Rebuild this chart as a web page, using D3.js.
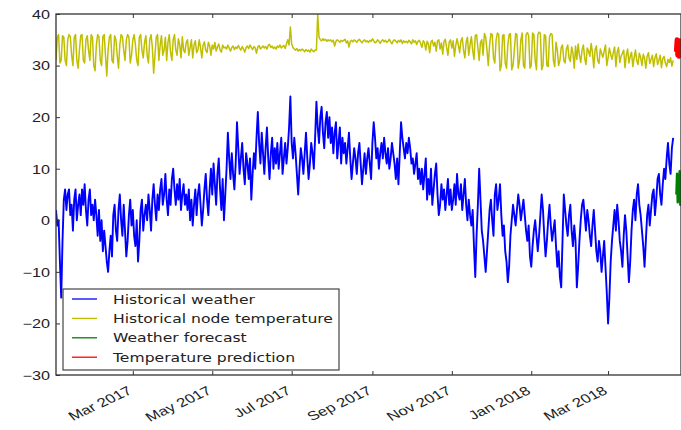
<!DOCTYPE html>
<html lang="en">
  <head>
    <meta charset="UTF-8" />
    <title>Historical weather and node temperature</title>
    <style>
      * {
        margin: 0;
        padding: 0;
      }
      body {
        background: #fff;
      }
      svg {
        display: block;
        font-family: "DejaVu Sans", sans-serif;
      }
    </style>
  </head>
  <body>
    <script src="https://d3js.org/d3.v7.min.js"></script>
    <script>
      // history: one value per day from seriesStart
      const seriesStart = "2017-01-01";
      const stepDays = 1;
      const weather = [
        2, -1, 0, -8, -15, -4, 4, 6, 2, 5,
        6, 1, 3, -2, 4, 6, 0, 3, 5, 1,
        6, 3, 7, 2, -1, 4, 6, 1, 3, 0,
        4, 1, -3, 2, -4, 0, -6, -2, -5, -8,
        -10, -6, -3, -7, 1, 3, -2, -4, 2, 5,
        0, -3, 3, -2, -7, -4, 1, 4, -1, 2,
        -3, -5, 0, -8, -4, 2, 4, -2, 1, 3,
        0, 5, 2, -2, 4, 7, 3, 0, 5, 2,
        6, 8, 3, 5, 9, 4, 1, 6, 3, 8,
        10, 6, 3, 7, 4, 8, 2, 5, 7, 3,
        5, 2, 6, 0, 4, -1, 3, 6, 1, 5,
        7, 3, -1, 2, 6, 9, 4, 1, 6, 10,
        5, 11, 7, 3, 9, 12, 6, 2, 8, 0,
        5, 10, 17, 12, 8, 13, 9, 6, 11, 19,
        14, 9, 12, 15, 10, 7, 13, 11, 8, 12,
        4, 9, 13, 10, 16, 21, 15, 11, 17, 13,
        9, 14, 18, 12, 8, 13, 16, 10, 14, 11,
        15, 10, 13, 16, 9, 12, 15, 11, 14, 18,
        24, 15, 12, 16, 13, 9, 5, 10, 14, 12,
        9, 13, 17, 12, 8, 11, 15, 13, 10, 16,
        23, 18, 15, 20, 22, 17, 14, 19, 21, 16,
        20, 15, 18, 13, 17, 19, 12, 15, 18, 11,
        16, 13, 15, 11, 14, 17, 12, 8, 11, 14,
        12, 9, 13, 15, 11, 7, 10, 13, 9, 12,
        14, 11, 8, 15, 19, 16, 12, 14, 10, 13,
        15, 12, 16, 13, 11, 14, 10, 12, 15, 13,
        11, 8, 12, 7, 13, 19, 16, 14, 12, 15,
        13, 16, 14, 11, 12, 9, 11, 13, 8, 10,
        7, 10, 6, 9, 12, 4, 8, 5, 10, 3,
        6, 9, 11, 5, 1, 3, 7, 4, 6, 2,
        5, 8, 3, 6, 2, 4, 7, 3, 9, 5,
        4, 7, 2, 5, 8, 3, 0, 4, 1, -1,
        2, -5, -11, -3, 3, 10, 4, -2, -4, -7,
        -10, -6, -2, 2, 4, 0, -3, 5, 7, 2,
        4, 7, 1, -3, -1, -6, -8, -12, -9, -3,
        0, 3, 1, -1, 2, 5, 3, 0, 2, 4,
        1, -2, -4, -1, -7, -9, -5, -2, 0, -3,
        -6, -3, 1, 5, 2, -3, -7, -4, 0, 3,
        -1, -4, -2, 0, -5, -9, -6, -11, -13, -4,
        5, 2, -1, -3, 1, 3, -2, -5, -1, -4,
        -13, -9, -4, 0, 3, 4, 1, -2, 2, 0,
        -3, -5, -1, 2, -2, -6, -8, -4, -6, -10,
        -7, -4, -9, -14, -20, -15, -8, -4, -1, 2,
        -2, 3, 0, -4, -6, -9, -3, 1, -2, -7,
        -12, -8, -2, 2, 4, 0, 5, 7, 3, 1,
        -2, -5, -9, -4, 1, 3, -1, 2, 5, 6,
        1, 4, 8, 9, 5, 3, 7, 10, 8, 12,
        15, 11, 9, 14, 16
      ];
      const nodeTemp = [
        31, 35.5, 36, 30.5, 31, 35.8, 35.5, 31, 30, 35,
        36, 35.6, 32, 30, 35.5, 36, 31, 29.5, 33, 35.8,
        36, 31, 30.5, 35, 35.8, 33, 31, 36, 35.5, 30,
        29, 34, 36, 35.5, 31, 30, 35.6, 36, 32, 28,
        33, 35.5, 36, 31, 30.5, 35.8, 35, 32, 29.5, 34,
        36, 35.6, 33, 31, 35, 36, 35.5, 30.5, 32, 35,
        36, 34, 31, 30, 35.5, 36, 33, 31.5, 34.5, 35.8,
        32, 30.5, 35, 36, 33.5, 28.5, 32, 35.5, 36, 31,
        34, 35.8, 32, 33, 35.5, 31, 34.5, 36, 32.5, 31,
        35, 36, 33, 32, 35.2, 34, 31.5, 35.6, 33, 32.5,
        34.5, 35, 32, 33.5, 35, 31.5, 34, 34.8, 32.5, 33,
        35, 33.5, 31.5, 34, 34.6, 33, 32.5, 34.5, 33.8, 32,
        34, 33.2, 34.5, 32.8, 33.6, 34.2, 33, 32.6, 34, 33.4,
        33.6, 33.2, 34, 33.4, 32.8, 33.5, 33.8, 33.1, 33.6, 33.3,
        33.9, 33.4, 33, 33.7, 33.2, 32.6, 33.5, 33.8, 33.3, 34,
        33.5, 33.1, 33.7, 33.4, 32.4, 33.6, 33.9, 33.2, 33.5, 33.8,
        33.4, 33.7, 33.2, 33.9, 34.1, 33.5, 33.8, 33.3, 33.6, 33.2,
        33.8, 33.5, 34, 33.4, 33.7, 33.9, 33.3, 34.2, 35, 34,
        37.5, 34.2, 33.5, 33.2, 33, 33.3, 32.8, 33.1, 32.9, 33.2,
        33, 32.7, 33.1, 32.8, 33, 32.6, 33.2, 32.9, 32.7, 33,
        33, 40, 35.5, 35, 34.8, 35.2, 34.9, 35.1, 34.7, 35,
        34.8, 35, 34.6, 34.9, 33.8, 34.7, 35, 34.8, 34.5, 34.9,
        34.7, 34.9, 35.1, 34.4, 34.8, 33.6, 34.7, 34.9, 34.6, 35,
        34.8, 34.5, 34.9, 35.1, 34.7, 34.4, 34.8, 35, 34.6, 34.8,
        34.5, 34.9, 34.7, 35.2, 34.8, 34.4, 34.6, 35, 34.7, 34.3,
        34.8, 35, 34.6, 34.9, 34.5, 34.7, 35.1, 34.6, 34.2, 34.8,
        35, 34.7, 34.4, 34.9, 34.6, 35, 34.3, 34.8, 34.5, 34.7,
        34.4, 34.9, 34.6, 34.2, 35, 34.5, 34.8, 34.1, 34.7, 34.9,
        34.3, 33.5, 34.8, 34.5, 33, 34.7, 34.2, 32.5, 34.6, 34.9,
        33.8, 34.5, 32.8, 34.8, 35, 33.2, 34.4, 32.2, 34.7, 35.1,
        33.5, 32, 34.6, 35, 33.4, 34.8, 31.8, 33.9, 35.2, 34,
        32.5, 34.8, 35.4, 33, 31.5, 34.6, 35.5, 32, 34, 35.6,
        33, 31.2, 35.8, 36, 33.5, 31, 34.5, 35, 32, 36.2,
        35.5, 33, 30, 34, 36.2, 36, 31.5, 30.5, 35, 36.3,
        36, 29, 30, 35.8, 36, 30.5, 29.5, 34, 36, 36.2,
        29.2, 30, 33, 36.2, 36, 29.5, 31, 35, 36.3, 30,
        29.5, 36, 36.4, 35.8, 29.5, 30, 36.3, 36, 31, 29.2,
        36, 36.5, 36.2, 29.2, 30, 36, 35.8, 30, 29.8, 35.5,
        36.2, 36, 31, 29.8, 34.5, 33, 30, 31, 33.5, 34,
        31, 30.5, 33.2, 34, 31.5, 30.8, 33.6, 32.5, 29.5, 33.8,
        31.2, 34.2, 32, 30.6, 33, 34, 31.5, 30.2, 33.4, 32.8,
        31.8, 34.3, 32.5, 29.6, 33, 33.8, 31, 30.4, 33.2, 32.4,
        31.6, 32.8, 34, 30, 31.5, 33.4, 32.2, 31.2, 32.5, 33.6,
        29.8, 32.6, 33.5, 30.6, 31.8, 32.4, 33, 29.6, 32, 33.2,
        30.5, 31.8, 32.6, 29.8, 31.5, 33, 31, 30.2, 32.4, 31.6,
        30, 32.2, 31.4, 29.5, 31.8, 32.5, 30.4, 31.2, 32, 29.8,
        31.5, 32.3, 30.2, 31, 32, 29.6, 31.4, 31.8, 30.5, 29.8,
        31.2, 30.6, 31.5, 29.9, 31
      ];

      // forecast / prediction: one value every 12 hours
      const forecastStart = "2018-04-22T12:00:00";
      const forecastStepHours = 12;
      const forecast = [5, 9, 3.5, 8.5, 4, 9.5, 3, 8];
      const prediction = [33, 35, 32, 34.5, 31.8, 34.8, 32.5, 34];

      const xStart = "2017-01-01";
      const xEnd = "2018-04-26";
      const yTicks = [40, 30, 20, 10, 0, -10, -20, -30];
      const xTickDates = ["2017-03-01", "2017-05-01", "2017-07-01", "2017-09-01", "2017-11-01", "2018-01-01", "2018-03-01"];
      const xTickLabels = ["Mar 2017", "May 2017", "Jul 2017", "Sep 2017", "Nov 2017", "Jan 2018", "Mar 2018"];
      const legendLabels = ["Historical weather", "Historical node temperature", "Weather forecast", "Temperature prediction"];

      const colors = ["#0000ff", "#bfbf00", "#008000", "#ff0000"];

      const width = 681;
      const height = 430;
      const margin = { top: 14, right: 0, bottom: 55, left: 56 };
      const stretch = 1.35; // text in the picture is wider than tall

      const svg = d3.select("body").append("svg")
        .attr("width", width)
        .attr("height", height);

      const parse = d3.isoParse;
      const x = d3.scaleTime()
        .domain([parse(xStart), parse(xEnd)])
        .range([margin.left, width - margin.right]);
      const y = d3.scaleLinear()
        .domain([-30, 40])
        .range([height - margin.bottom, margin.top]);

      const t0 = parse(seriesStart);
      const histWeather = weather.map((v, i) => ({ t: d3.timeDay.offset(t0, i * stepDays), v }));
      const histNode = nodeTemp.map((v, i) => ({ t: d3.timeDay.offset(t0, i * stepDays), v }));
      const f0 = parse(forecastStart);
      const fc = forecast.map((v, i) => ({ t: d3.timeHour.offset(f0, i * forecastStepHours), v }));
      const pr = prediction.map((v, i) => ({ t: d3.timeHour.offset(f0, i * forecastStepHours), v }));

      svg.append("defs").append("clipPath").attr("id", "plot")
        .append("rect")
        .attr("x", margin.left)
        .attr("y", margin.top)
        .attr("width", width - margin.left - margin.right)
        .attr("height", height - margin.top - margin.bottom);

      const line = d3.line().x((d) => x(d.t)).y((d) => y(d.v));
      const lines = svg.append("g").attr("clip-path", "url(#plot)")
        .attr("fill", "none")
        .attr("stroke-linejoin", "round");

      lines.append("path").datum(histWeather)
        .attr("d", line).attr("stroke", colors[0]).attr("stroke-width", 1.9);
      lines.append("path").datum(histNode)
        .attr("d", line).attr("stroke", colors[1]).attr("stroke-width", 1.5);
      lines.append("path").datum(fc)
        .attr("d", line).attr("stroke", colors[2]).attr("stroke-width", 2.5);
      lines.append("path").datum(pr)
        .attr("d", line).attr("stroke", colors[3]).attr("stroke-width", 5)
        .attr("stroke-linecap", "round");

      // frame
      svg.append("rect")
        .attr("x", margin.left)
        .attr("y", margin.top)
        .attr("width", width - margin.left - margin.right)
        .attr("height", height - margin.top - margin.bottom)
        .attr("fill", "none")
        .attr("stroke", "#333")
        .attr("stroke-width", 1.3);

      // y axis, ticks pointing inward
      const yAxis = svg.append("g")
        .attr("transform", `translate(${margin.left},0)`)
        .call(d3.axisLeft(y).tickValues(yTicks).tickSizeInner(-4).tickSizeOuter(0).tickPadding(6)
          .tickFormat((d) => (d < 0 ? "\u2212" + Math.abs(d) : d)));
      yAxis.select(".domain").remove();
      yAxis.selectAll("line").attr("stroke", "#333");
      yAxis.selectAll("text")
        .attr("x", null)
        .attr("dy", "0.36em")
        .attr("transform", `translate(-6,0) scale(${stretch},1)`)
        .attr("fill", "#222")
        .attr("font-size", 12);

      // bottom axis with rotated labels
      const xAxis = svg.append("g")
        .attr("transform", `translate(0,${height - margin.bottom})`)
        .call(d3.axisBottom(x).tickValues(xTickDates.map(parse)).tickSizeInner(-4).tickSizeOuter(0)
          .tickFormat((d, i) => xTickLabels[i]));
      xAxis.select(".domain").remove();
      xAxis.selectAll("line").attr("stroke", "#333");
      xAxis.selectAll("text")
        .attr("y", 0)
        .attr("dy", 0)
        .attr("text-anchor", "end")
        .attr("transform", `translate(0,18) scale(${stretch},1) rotate(-32)`)
        .attr("fill", "#222")
        .attr("font-size", 12.5);

      // top ticks only
      const topAxis = svg.append("g")
        .attr("transform", `translate(0,${margin.top})`)
        .call(d3.axisTop(x).tickValues(xTickDates.map(parse)).tickSizeInner(-4).tickSizeOuter(0).tickFormat(""));
      topAxis.select(".domain").remove();
      topAxis.selectAll("line").attr("stroke", "#333");

      // legend
      const legend = svg.append("g").attr("transform", "translate(63,289)");
      legend.append("rect")
        .attr("width", 276)
        .attr("height", 81)
        .attr("fill", "#fff")
        .attr("stroke", "#444")
        .attr("stroke-width", 1.2);
      const items = legend.selectAll("g.item")
        .data(legendLabels)
        .join("g")
        .attr("class", "item")
        .attr("transform", (d, i) => `translate(0,${10 + i * 19.4})`);
      items.append("line")
        .attr("x1", 9).attr("x2", 34)
        .attr("stroke", (d, i) => colors[i])
        .attr("stroke-width", 1.3);
      items.append("text")
        .text((d) => d)
        .attr("transform", "translate(50,4.5) scale(1.25,1)")
        .attr("fill", "#222")
        .attr("font-size", 12.5);
    </script>
  </body>
</html>
